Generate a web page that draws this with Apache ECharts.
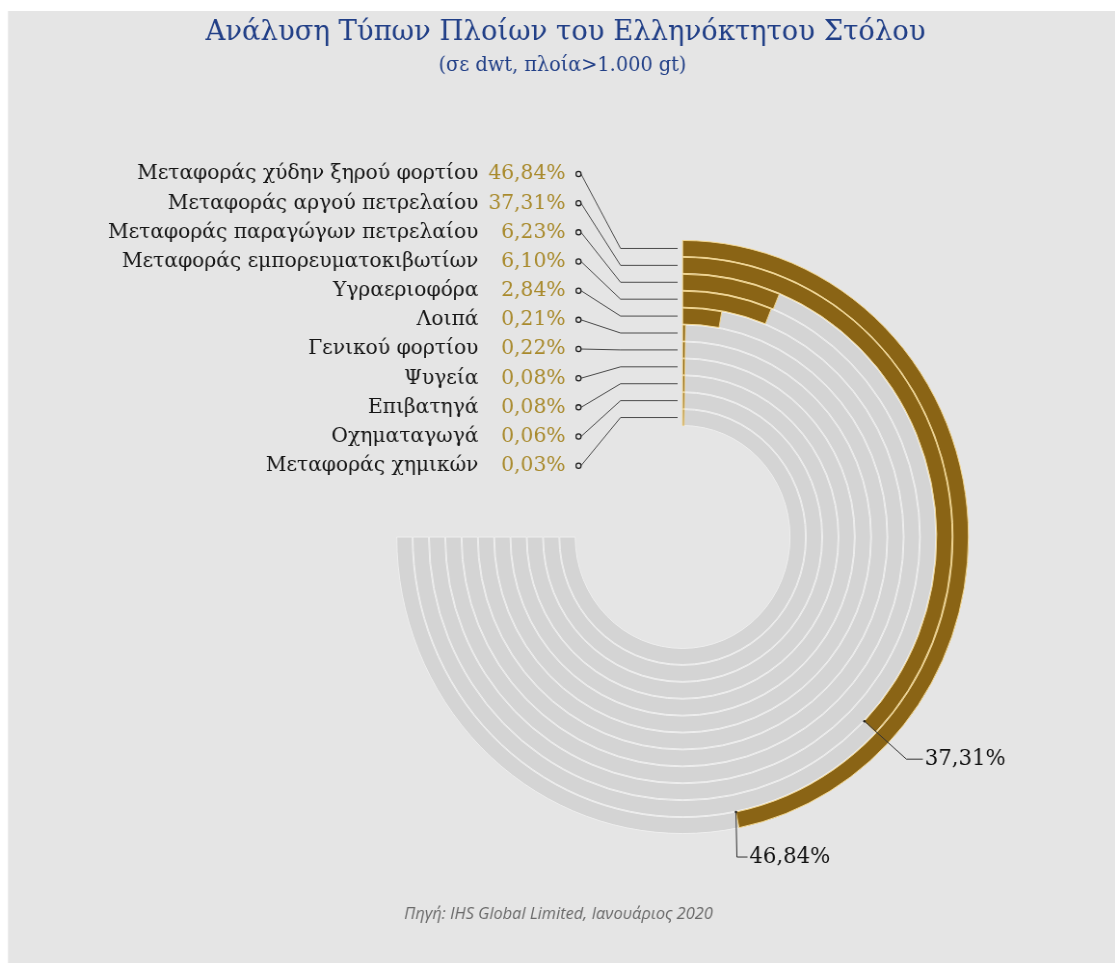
<!DOCTYPE html>
<html>
<head>
<meta charset="utf-8">
<script src="https://cdn.jsdelivr.net/npm/echarts@6/dist/echarts.min.js"></script>
<style>
  html, body { margin: 0; padding: 0; background: #ffffff; overflow: hidden; }
  #wrap { width: 1115px; height: 963px; overflow: hidden; position: relative; }
  /* the drawing is laid out slightly wider and narrowed horizontally */
  #chart { position: absolute; left: 0; top: 0; height: 963px; transform-origin: 0 0; }
</style>
</head>
<body>
<div id="wrap"><div id="chart"></div></div>
<script>
// Ship types of the Greek-owned fleet, share of dwt (%)
const shipTypes = [
  'Μεταφοράς χύδην ξηρού φορτίου',
  'Μεταφοράς αργού πετρελαίου',
  'Μεταφοράς παραγώγων πετρελαίου',
  'Μεταφοράς εμπορευματοκιβωτίων',
  'Υγραεριοφόρα',
  'Λοιπά',
  'Γενικού φορτίου',
  'Ψυγεία',
  'Επιβατηγά',
  'Οχηματαγωγά',
  'Μεταφοράς χημικών'
];
const shares = [46.84, 37.31, 6.23, 6.10, 2.84, 0.21, 0.22, 0.08, 0.08, 0.06, 0.03];
const shareLabels = ['46,84%', '37,31%', '6,23%', '6,10%', '2,84%', '0,21%', '0,22%', '0,08%', '0,08%', '0,06%', '0,03%'];
// each ring's grey track covers three quarters of the full circle
const trackExtent = 75;
// rings whose end gets a callout label
const calloutRings = [0, 1];

const titleText = 'Ανάλυση Τύπων Πλοίων του Ελληνόκτητου Στόλου';
const subtitleText = '(σε dwt, πλοία>1.000 gt)';
const sourceText = 'Πηγή: IHS Global Limited, Ιανουάριος 2020';

const SX = 0.963;
const X = x => x / SX;   // page x -> layout x
const W = 1115 / SX;

const el = document.getElementById('chart');
el.style.width = W + 'px';
el.style.transform = 'scaleX(' + SX + ')';

const chart = echarts.init(el, null, { renderer: 'canvas', width: W, height: 963 });

const BROWN = '#8a6415';
const GOLD = '#a98a2c';
const serif = 'DejaVu Serif';
const barW = 16;
const center = [X(682), 537];
const radii = [111, 297];

// two identical polar systems: one for the grey tracks, one for the shares on top
const angleAxisOpt = i => ({ polarIndex: i, type: 'value', min: 0, max: 100, startAngle: 90, clockwise: true, show: false });
const radiusAxisOpt = i => ({ polarIndex: i, type: 'category', data: shipTypes, inverse: true, show: false });

chart.setOption({
  backgroundColor: '#ffffff',
  animation: false,
  polar: [{ center: center, radius: radii }, { center: center, radius: radii }],
  angleAxis: [angleAxisOpt(0), angleAxisOpt(1)],
  radiusAxis: [radiusAxisOpt(0), radiusAxisOpt(1)],
  series: [
    {
      type: 'bar', coordinateSystem: 'polar', polarIndex: 0, barWidth: barW,
      data: shipTypes.map(() => trackExtent),
      itemStyle: { color: '#d4d4d4', borderColor: '#efefef', borderWidth: 1 },
      silent: true, z: 2
    },
    {
      type: 'bar', coordinateSystem: 'polar', polarIndex: 1, barWidth: barW,
      barMinAngle: 0.8,
      data: shares,
      itemStyle: { color: BROWN, borderColor: '#f2d690', borderWidth: 1 },
      silent: true, z: 4
    }
  ]
});

// annotations: panel, titles, left-hand list with leader lines, callouts
const g = [];
g.push({ type: 'rect', shape: { x: X(8), y: 11, width: W, height: 963 }, style: { fill: '#e5e5e5' }, z: -10, silent: true });
g.push({ type: 'text', x: X(565), y: 33, style: { text: titleText, font: '28.5px "' + serif + '"', fill: '#213f87', align: 'center', verticalAlign: 'middle' }, z: 10 });
g.push({ type: 'text', x: X(562), y: 66, style: { text: subtitleText, font: '20px "' + serif + '"', fill: '#213f87', align: 'center', verticalAlign: 'middle' }, z: 10 });
g.push({ type: 'text', x: X(558), y: 914, style: { text: sourceText, font: 'italic 17px "Open Sans"', fill: '#6a6a6a', align: 'center', verticalAlign: 'middle' }, z: 10 });

const rowTop = 174, rowStep = 29.17;
shipTypes.forEach((name, i) => {
  const ry = rowTop + rowStep * i;
  const ringPt = chart.convertToPixel({ seriesIndex: 1 }, [i, 0]);
  const ly = ringPt[1];
  g.push({ type: 'text', x: X(478), y: ry, style: { text: name, font: '21px "' + serif + '"', fill: '#161616', align: 'right', verticalAlign: 'middle' }, z: 10 });
  g.push({ type: 'text', x: X(565), y: ry, style: { text: shareLabels[i], font: '21px "' + serif + '"', fill: GOLD, align: 'right', verticalAlign: 'middle' }, z: 10 });
  g.push({ type: 'circle', shape: { cx: X(578), cy: ry, r: 2.6 }, style: { fill: '#e5e5e5', stroke: '#222222', lineWidth: 1.3 }, z: 11 });
  g.push({ type: 'polyline', shape: { points: [[X(580.5), ry], [X(620), ly], [X(677), ly]] }, style: { stroke: '#4a4a4a', lineWidth: 1, fill: null }, z: 10 });
});

// callouts from the inner corner of the bar end
const calloutOffsets = [[[1, 45], [11, 0]], [[43.6, 38], [17, 0]]];
calloutRings.forEach((ring, k) => {
  const p = chart.convertToPixel({ seriesIndex: 1 }, [ring, shares[ring]]);
  const dx = p[0] - center[0], dy = p[1] - center[1];
  const len = Math.sqrt(dx * dx + dy * dy);
  const ux = dx / len, uy = dy / len;
  const a = [center[0] + ux * (len - barW / 2), center[1] + uy * (len - barW / 2)];
  const b = [a[0] + calloutOffsets[k][0][0], a[1] + calloutOffsets[k][0][1]];
  const c = [b[0] + calloutOffsets[k][1][0], b[1]];
  g.push({ type: 'polyline', shape: { points: [a, b, c] }, style: { stroke: '#333333', lineWidth: 1, fill: null }, z: 12 });
  g.push({ type: 'circle', shape: { cx: a[0], cy: a[1], r: 1.3 }, style: { fill: '#222222' }, z: 12 });
  g.push({ type: 'text', x: c[0] + 2, y: c[1], style: { text: shareLabels[ring], font: '22px "' + serif + '"', fill: '#111111', align: 'left', verticalAlign: 'middle' }, z: 12 });
});

chart.setOption({ graphic: { elements: g } });
</script>
</body>
</html>
